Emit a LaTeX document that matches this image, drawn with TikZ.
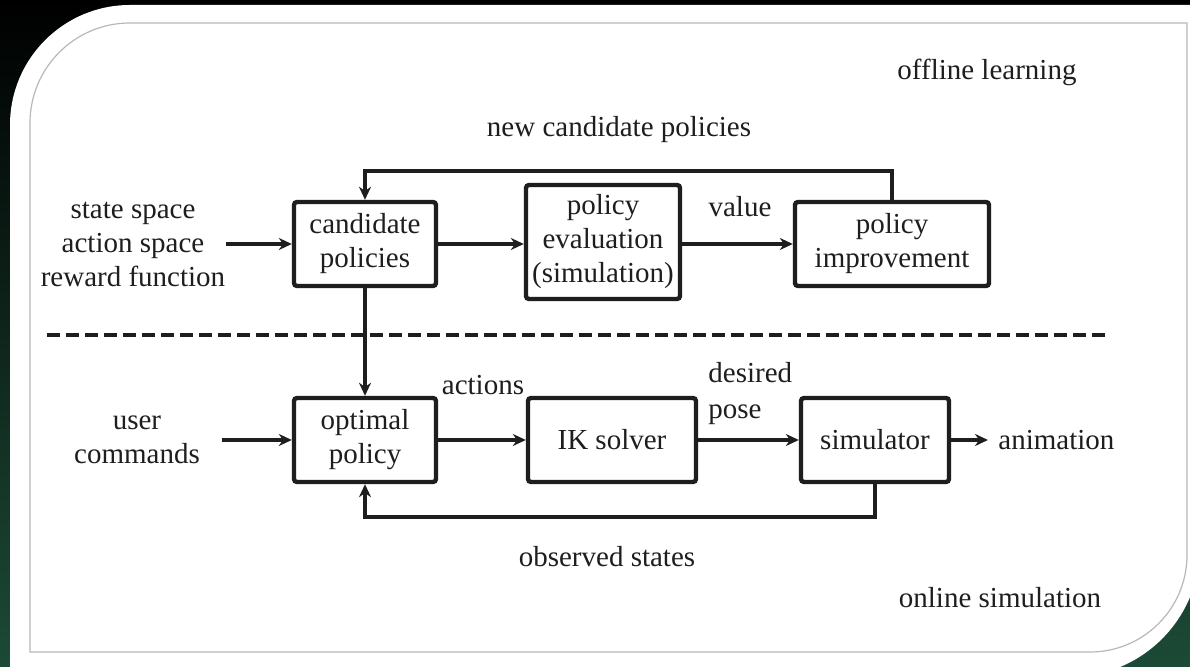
\documentclass[tikz,border=0pt]{standalone}
\usepackage{fontspec}
\setmainfont{Liberation Serif}
\usepackage{xcolor}
\usepackage{tikz}
\usetikzlibrary{arrows.meta,positioning,calc}
\definecolor{bgmid}{HTML}{0C271C}
\definecolor{bggreen}{HTML}{1C4A36}
\definecolor{framegray}{HTML}{B8B8B8}
\definecolor{inkgray}{HTML}{1E1E1E}

\tikzset{
  blockbox/.style={draw=inkgray,line width=2.2pt,rounded corners=1.5pt,align=center,
    text=inkgray,inner sep=2pt,minimum height=42pt},
  flow/.style={draw=inkgray,line width=1.6pt,-{Stealth[length=6.5pt,width=6pt]}},
  lbl/.style={text=inkgray,align=center,inner sep=0pt}
}

\begin{document}
\begin{tikzpicture}[x=0.5pt,y=-0.5pt,font=\fontsize{14.5}{17}\selectfont]
  \useasboundingbox (0,0) rectangle (1190,667);
  % backdrop and panel
  \shade[top color=black,middle color=bgmid,bottom color=bggreen] (0,0) rectangle (1190,667);
  \fill[white] (10,677) -- (10,125) arc[start angle=180,end angle=270,radius=120]
    -- (1200,5) -- (1200,547) arc[start angle=0,end angle=90,radius=130] -- cycle;
  \draw[framegray,line width=0.6pt] (30,652) -- (30,123) arc[start angle=180,end angle=270,radius=100]
    -- (1187,23) -- (1187,555) arc[start angle=0,end angle=90,radius=97] -- cycle;

  % blocks
  \node[blockbox,minimum width=71pt] (cand) at (365,244) {candidate\\policies};
  \node[blockbox,minimum width=77pt,minimum height=57pt] (eval) at (603,242) {policy\\evaluation\\(simulation)};
  \node[blockbox,minimum width=97pt] (impr) at (892,244) {policy\\improvement};
  \node[blockbox,minimum width=71pt] (opt) at (365,440) {optimal\\policy};
  \node[blockbox,minimum width=84pt] (ik) at (612,440) {IK solver};
  \node[blockbox,minimum width=74pt] (sim) at (875,440) {simulator};

  % labels
  \node[lbl] (offl) at (987,72) {offline learning};
  \node[lbl] (newcand) at (619,130) {new candidate policies};
  \node[lbl] (inputs) at (133,244) {state space\\action space\\reward function};
  \node[lbl] (val) at (740,207) {value};
  \node[lbl] (act) at (483,385) {actions};
  \node[lbl,align=left,anchor=west] (pose) at (708,394) {desired\\[1pt]pose};
  \node[lbl] (cmds) at (137,440) {user\\commands};
  \node[lbl,anchor=west] (anim) at (998,440) {animation};
  \node[lbl] (obs) at (607,557) {observed states};
  \node[lbl] (onl) at (1000,598) {online simulation};

  % separator
  \draw[inkgray,line width=2pt,dash pattern=on 6.5pt off 3pt] (47,335) -- (1110,335);

  % connectors
  \coordinate (toprail) at (0,171);
  \coordinate (botrail) at (0,517);
  \draw[flow] (inputs.east) -- (inputs.east -| cand.west);
  \draw[flow] (cand.east) -- (cand.east -| eval.west);
  \draw[flow] (eval.east |- impr.west) -- (impr.west);
  \draw[flow] (impr.north) -- (impr.north |- toprail) -| (cand.north);
  \draw[flow] (cand.south) -- (opt.north);
  \draw[flow] ([xshift=11pt]cmds.east) -- (opt.west);
  \draw[flow] (opt.east) -- (ik.west);
  \draw[flow] (ik.east) -- (sim.west);
  \draw[flow] (sim.east) -- ([xshift=-5pt]anim.west);
  \draw[flow] (sim.south) -- (sim.south |- botrail) -| (opt.south);
\end{tikzpicture}
\end{document}
